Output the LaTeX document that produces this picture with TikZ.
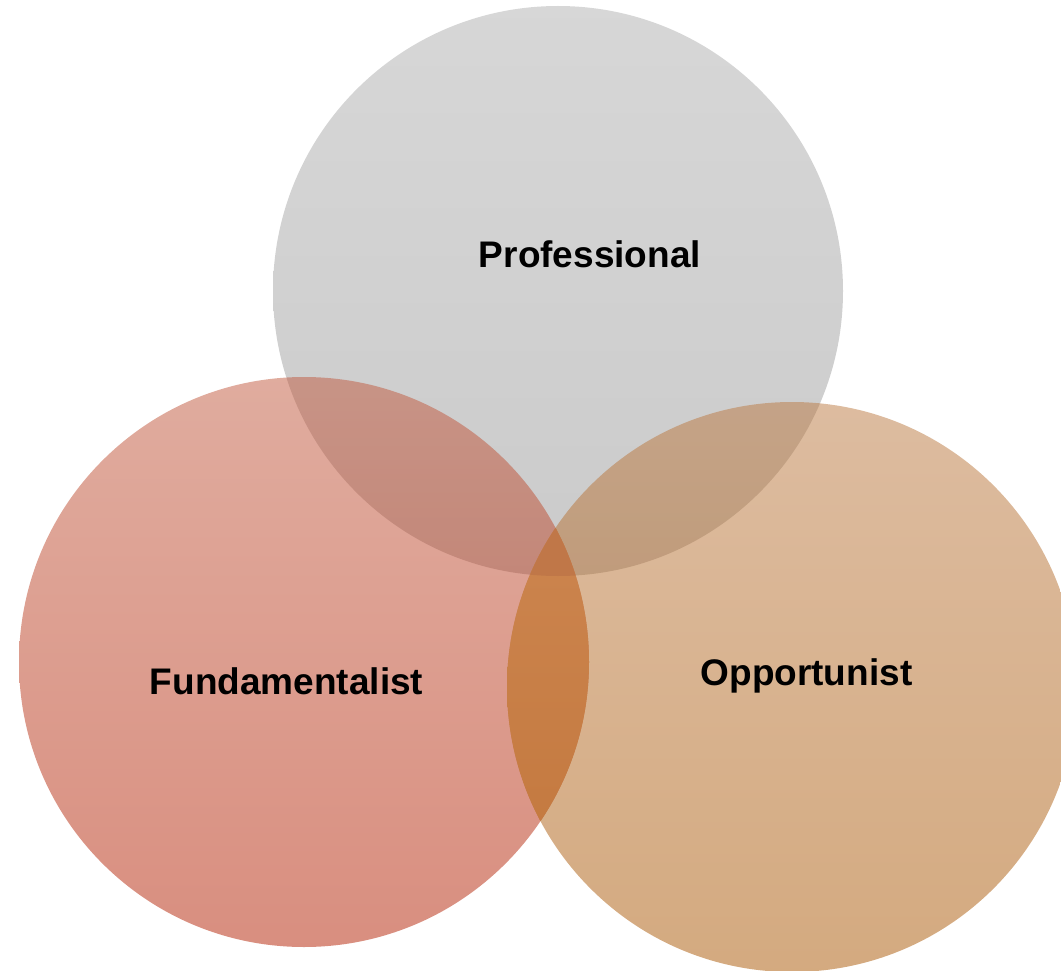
\documentclass[tikz,border=0pt]{standalone}
\usepackage{fontspec}
\setmainfont{Liberation Sans}
\definecolor{grayTop}{RGB}{175,175,175}
\definecolor{grayBot}{RGB}{151,151,151}
\definecolor{redTop}{RGB}{193,89,62}
\definecolor{redBot}{RGB}{179,30,0}
\definecolor{oraTop}{RGB}{187,121,65}
\definecolor{oraBot}{RGB}{169,85,0}
\definecolor{lensTop}{RGB}{207,137,84}
\definecolor{lensBot}{RGB}{193,117,58}
\definecolor{tripleC}{RGB}{192,119,72}
\tikzset{
  venn/.style={circle, minimum size=570pt, inner sep=0pt, outer sep=0pt, fill opacity=0.5, draw=none},
  lbl/.style={font=\fontsize{37}{44}\selectfont\bfseries, text=black, inner sep=0pt, anchor=center}
}
\begin{document}
\begin{tikzpicture}[x=1pt,y=-1pt]
\useasboundingbox (0,0) rectangle (1061,971);
\clip (0,0) rectangle (1061,971);
\node[venn, top color=grayTop, bottom color=grayBot] (prof) at (558,291) {};
\node[venn, top color=redTop, bottom color=redBot] (fund) at (304,662) {};
\node[venn, top color=oraTop, bottom color=oraBot] (opp) at (792,687) {};
% red-orange overlap (lens)
\begin{scope}
  \clip (fund.center) circle [radius=285pt];
  \shade[top color=lensTop, bottom color=lensBot] (opp.center) circle [radius=285pt];
  \clip (prof.center) circle [radius=285pt];
  \fill[tripleC] (opp.center) circle [radius=285pt];
\end{scope}
\node[lbl] (profl) at (590,254) {Professional};
\node[lbl] (fundl) at (286.5,681) {Fundamentalist};
\node[lbl] (oppl) at (806.5,676) {Opportunist};
\end{tikzpicture}
\end{document}
